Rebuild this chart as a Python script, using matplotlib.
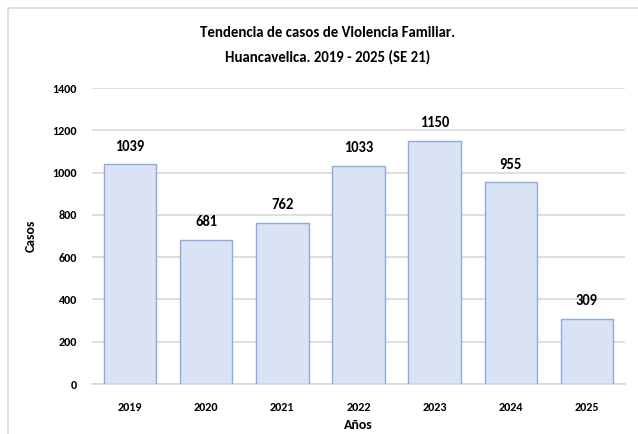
import matplotlib.pyplot as plt
from matplotlib.patches import Rectangle


# Casos de violencia familiar por año
#--------------------------------------------------------------------------------

years = ["2019", "2020", "2021", "2022", "2023", "2024", "2025"]

cases = [1039, 681, 762, 1033, 1150, 955, 309]

y_ticks = [0, 200, 400, 600, 800, 1000, 1200, 1400]


plt.rcParams["font.family"] = ["Carlito", "DejaVu Sans"]

fig = plt.figure(
    figsize=(6.38, 4.34),
    dpi=100
)

# light frame around the chart area
fig.patches.append(
    Rectangle(
        (8 / 638, -0.1),
        1.2,
        1.1 - 8 / 434,
        transform=fig.transFigure,
        fill=False,
        edgecolor="#D9D9D9",
        linewidth=1.2
    )
)

ax = fig.add_axes([0.1442, 0.1152, 0.8354, 0.682])

bars = ax.bar(
    years,
    cases,
    width=0.69,
    color="#DAE3F3",
    edgecolor="#8FAADC",
    linewidth=1.0,
    zorder=3
)

# value labels above each bar
for bar, value in zip(bars, cases):

    ax.text(
        bar.get_x() + bar.get_width() / 2,
        value + 50,
        str(value),
        ha="center",
        va="bottom",
        fontsize=10.5,
        fontweight="bold"
    )

ax.set_ylim(0, 1400)
ax.set_xlim(-0.5, len(years) - 0.5)

ax.set_yticks(y_ticks)

ax.grid(
    axis="y",
    color="#D9D9D9",
    linewidth=1.2,
    zorder=0
)

for side in ["top", "right", "left"]:
    ax.spines[side].set_visible(False)

ax.spines["bottom"].set_color("#D9D9D9")
ax.spines["bottom"].set_linewidth(1.2)

ax.tick_params(
    axis="both",
    length=0,
    labelsize=8.7
)

ax.tick_params(axis="y", pad=11)
ax.tick_params(axis="x", pad=13)

for label in ax.get_xticklabels() + ax.get_yticklabels():
    label.set_fontweight("bold")

ax.set_xlabel(
    "Años",
    fontsize=10,
    fontweight="bold",
    labelpad=4
)

ax.set_ylabel(
    "Casos",
    fontsize=10,
    fontweight="bold",
    labelpad=11
)

fig.text(
    0.514,
    1 - 33 / 434,
    "Tendencia de casos de Violencia Familiar.",
    ha="center",
    va="center",
    fontsize=10.7,
    fontweight="bold"
)

fig.text(
    0.514,
    1 - 57 / 434,
    "Huancavelica. 2019 - 2025 (SE 21)",
    ha="center",
    va="center",
    fontsize=10.7,
    fontweight="bold"
)

fig.savefig("out.png", dpi=100)
